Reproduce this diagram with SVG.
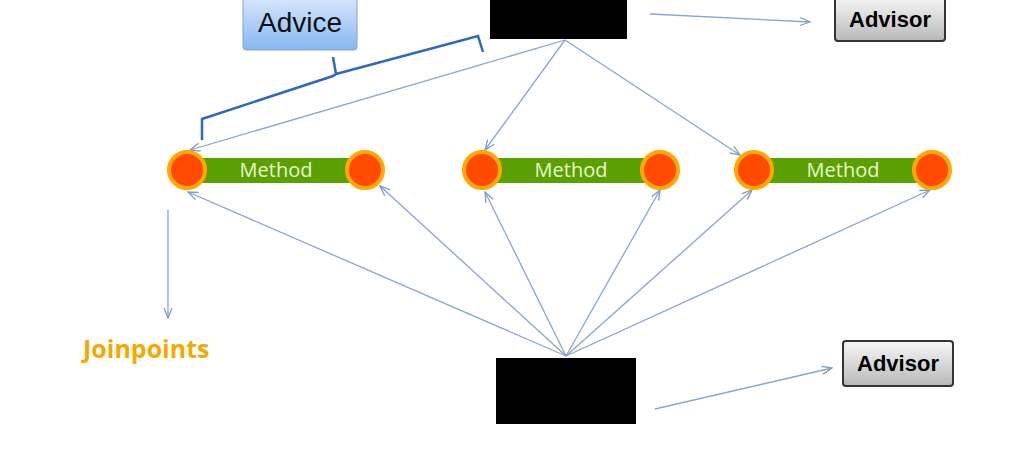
<svg xmlns="http://www.w3.org/2000/svg" width="1024" height="450" viewBox="0 0 1024 450">
<defs>
<linearGradient id="gb" x1="0" y1="0" x2="0" y2="1"><stop offset="0" stop-color="#dceaff"/><stop offset="1" stop-color="#86b6f0"/></linearGradient>
<linearGradient id="gg" x1="0" y1="0" x2="0" y2="1"><stop offset="0" stop-color="#f8f8f8"/><stop offset="1" stop-color="#b8b8b8"/></linearGradient>
<marker id="ar" markerWidth="12" markerHeight="10" refX="11" refY="5" orient="auto" markerUnits="userSpaceOnUse"><path d="M1,1 L11,5 L1,9" fill="none" stroke="#7f9cc8" stroke-width="1.3"/></marker>
</defs>
<style>
.c{stroke:#8aa4cc;stroke-width:1.3;fill:none;marker-end:url(#ar)}
.bar{fill:#5aa000}
.jp{fill:#ff4a00;stroke:#ffa800;stroke-width:4}
.mt{font-family:"Open Sans",sans-serif;font-size:20px;fill:#e8f8d0;text-anchor:middle}
.adv{font-family:"Liberation Sans",sans-serif;font-weight:bold;font-size:22px;text-anchor:middle}
</style>
<rect width="1024" height="450" fill="#fff"/>
<g id="connectors">
<path class="c" d="M650,14 L810,22"/>
<path class="c" d="M565,40 L190,150"/>
<path class="c" d="M565,40 L485,150"/>
<path class="c" d="M565,40 L740,155"/>
<path class="c" d="M566,356 L188,192"/>
<path class="c" d="M566,356 L380,186"/>
<path class="c" d="M566,356 L485,192"/>
<path class="c" d="M566,356 L660,190"/>
<path class="c" d="M566,356 L752,190"/>
<path class="c" d="M566,356 L930,190"/>
<path class="c" d="M168,210 L168,318"/>
<path class="c" d="M655,409 L832,368"/>
</g>
<g id="advice">
<rect x="243" y="-6" width="114" height="56" rx="3" fill="url(#gb)" stroke="#7fa4d4"/>
<text x="300" y="32" font-family="Liberation Sans,sans-serif" font-size="28" text-anchor="middle" fill="#111">Advice</text>
</g>
<path id="brace" d="M202,140 L202,119 L333,76 L336,74 L333,57 M336,74 L478,36 L483,52" fill="none" stroke="#2f6ab8" stroke-width="2.5"/>
<rect id="top" x="490" y="0" width="137" height="39" fill="#000"/>
<rect id="bottom" x="496" y="358" width="140" height="66" fill="#000"/>
<g id="advisor1"><rect x="835" y="-4" width="110" height="45" rx="3" fill="url(#gg)" stroke="#333" stroke-width="2"/><text class="adv" x="890" y="27">Advisor</text></g>
<g id="advisor2"><rect x="843" y="341" width="110" height="45" rx="3" fill="url(#gg)" stroke="#333" stroke-width="2"/><text class="adv" x="898" y="371">Advisor</text></g>
<g id="method1"><rect class="bar" x="187" y="158" width="178" height="25"/><circle class="jp" cx="187" cy="170" r="18"/><circle class="jp" cx="365" cy="170" r="18"/><text class="mt" x="276" y="177">Method</text></g>
<g id="method2"><rect class="bar" x="482" y="158" width="178" height="25"/><circle class="jp" cx="482" cy="170" r="18"/><circle class="jp" cx="660" cy="170" r="18"/><text class="mt" x="571" y="177">Method</text></g>
<g id="method3"><rect class="bar" x="754" y="158" width="178" height="25"/><circle class="jp" cx="754" cy="170" r="18"/><circle class="jp" cx="932" cy="170" r="18"/><text class="mt" x="843" y="177">Method</text></g>
<text id="joinpoints" x="83" y="358" font-family="Open Sans,sans-serif" font-weight="bold" font-size="25" fill="#f5a800">Joinpoints</text>
</svg>
